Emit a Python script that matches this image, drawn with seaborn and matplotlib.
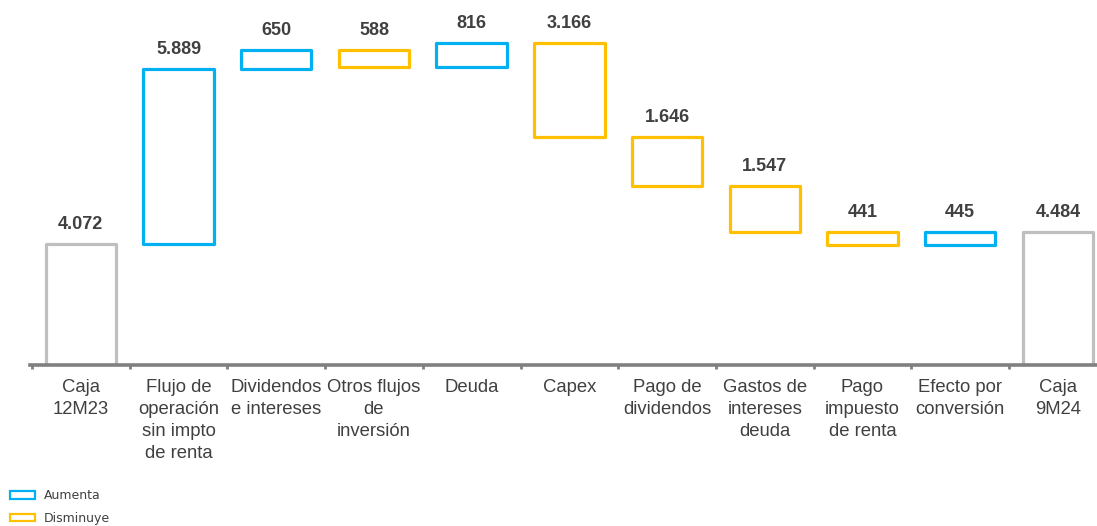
import numpy as np
import matplotlib
matplotlib.use("Agg")
import matplotlib.pyplot as plt
from matplotlib.patches import Patch
import seaborn as sns

# Cash bridge: opening balance, movements, closing balance (millions)
categories = ["Caja\n12M23", "Flujo de\noperación\nsin impto\nde renta",
              "Dividendos\ne intereses", "Otros flujos\nde\ninversión", "Deuda",
              "Capex", "Pago de\ndividendos", "Gastos de\nintereses\ndeuda",
              "Pago\nimpuesto\nde renta", "Efecto por\nconversión", "Caja\n9M24"]
movements = [4072, 5889, 650, -588, 816, -3166, -1646, -1547, -441, 445, 4484]
kinds = ["total", "step", "step", "step", "step", "step", "step", "step",
         "step", "step", "total"]
value_labels = ["4.072", "5.889", "650", "588", "816", "3.166", "1.646",
                "1.547", "441", "445", "4.484"]
legend_labels = ["Aumenta", "Disminuye"]

BLUE = "#00B0F0"
YELLOW = "#FFC000"
GREY = "#BFBFBF"
TEXT = "#404040"

# Floating bar geometry from the running balance
bottoms, heights, colors = [], [], []
running = 0
for mv, kind in zip(movements, kinds):
    if kind == "total":
        bottoms.append(0)
        heights.append(mv)
        colors.append(GREY)
        running = mv
    else:
        new = running + mv
        bottoms.append(min(running, new))
        heights.append(abs(mv))
        colors.append(BLUE if mv > 0 else YELLOW)
        running = new
tops = [b + h for b, h in zip(bottoms, heights)]

sns.set_theme(style="white")
plt.rcParams["font.family"] = ["Liberation Sans", "DejaVu Sans"]

fig = plt.figure(figsize=(10.97, 5.26), dpi=100)
ax = fig.add_axes([30 / 1097, 161 / 526, 1067 / 1097, 365 / 526])

sns.barplot(x=list(range(len(categories))), y=heights, bottom=bottoms,
            fill=False, width=0.72, errorbar=None, ax=ax, linewidth=2.3,
            color=GREY)
for patch, c in zip(ax.patches, colors):
    patch.set_edgecolor(c)
    patch.set_facecolor("white")
    patch.set_linewidth(2.3)
    patch.set_joinstyle("round")

for i, (t, lab) in enumerate(zip(tops, value_labels)):
    ax.annotate(lab, xy=(i, t), xytext=(0, 8), textcoords="offset points",
                ha="center", va="bottom", fontsize=13, fontweight="bold",
                color=TEXT)

ax.set_xlim(-0.52, 10.4)
ax.set_ylim(0, 12290)

ax.set_xticks(range(len(categories)))
ax.set_xticklabels(categories, fontsize=13.3, color=TEXT, linespacing=1.4)
ax.tick_params(axis="x", which="major", length=0, pad=10)
ax.set_xticks(np.arange(-0.5, len(categories) - 1, 1.0), minor=True)
ax.tick_params(axis="x", which="minor", length=3, width=2, color="#808080",
               direction="out", bottom=True)
ax.set_yticks([])
ax.set_xlabel("")
ax.set_ylabel("")

for side in ["top", "right", "left"]:
    ax.spines[side].set_visible(False)
ax.spines["bottom"].set_color("#808080")
ax.spines["bottom"].set_linewidth(2.6)

handles = [Patch(facecolor="white", edgecolor=BLUE, linewidth=1.6),
           Patch(facecolor="white", edgecolor=YELLOW, linewidth=1.6)]
fig.legend(handles, legend_labels, loc="lower left",
           bbox_to_anchor=(0.002, -0.012), frameon=False, handlelength=2.0,
           handleheight=0.55, handletextpad=0.7, labelspacing=0.75,
           prop={"family": ["Liberation Sans Narrow", "DejaVu Sans"], "size": 9},
           labelcolor=TEXT, borderaxespad=0.2)

fig.savefig("out.png", dpi=100, facecolor="white")
